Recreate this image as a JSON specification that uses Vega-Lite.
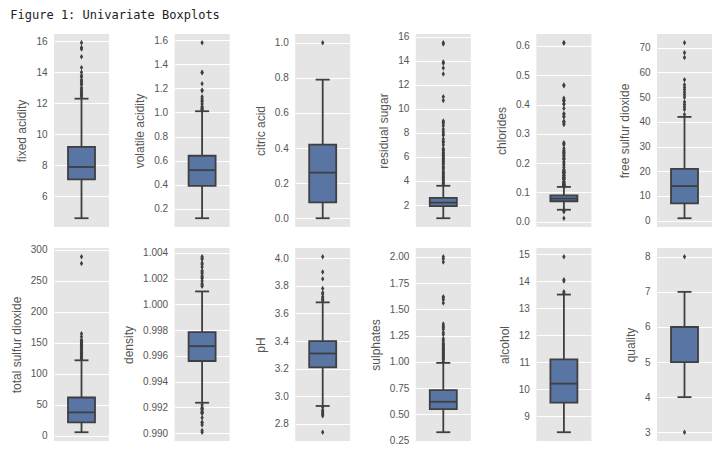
{
  "$schema": "https://vega.github.io/schema/vega-lite/v6.json",
  "background": "white",
  "padding": {"left": 10, "top": 8, "right": 5, "bottom": 5},
  "title": {"text": "Figure 1: Univariate Boxplots", "anchor": "start", "frame": "bounds", "font": "DejaVu Sans Mono", "fontSize": 12, "fontWeight": "normal", "color": "#222222", "offset": 10},
  "data": {"values": [
    {"n": "fixed acidity", "lo": 4.6, "q1": 7.1, "med": 7.9, "q3": 9.2, "hi": 12.3},
    {"n": "volatile acidity", "lo": 0.12, "q1": 0.39, "med": 0.52, "q3": 0.64, "hi": 1.01},
    {"n": "citric acid", "lo": 0, "q1": 0.09, "med": 0.26, "q3": 0.42, "hi": 0.79},
    {"n": "residual sugar", "lo": 0.9, "q1": 1.9, "med": 2.2, "q3": 2.6, "hi": 3.6},
    {"n": "chlorides", "lo": 0.041, "q1": 0.07, "med": 0.079, "q3": 0.09, "hi": 0.119},
    {"n": "free sulfur dioxide", "lo": 1, "q1": 7, "med": 14, "q3": 21, "hi": 42},
    {"n": "total sulfur dioxide", "lo": 6, "q1": 22, "med": 38, "q3": 62, "hi": 122},
    {"n": "density", "lo": 0.99236, "q1": 0.9956, "med": 0.99675, "q3": 0.99784, "hi": 1.001},
    {"n": "pH", "lo": 2.93, "q1": 3.21, "med": 3.31, "q3": 3.4, "hi": 3.68},
    {"n": "sulphates", "lo": 0.33, "q1": 0.55, "med": 0.62, "q3": 0.73, "hi": 0.99},
    {"n": "alcohol", "lo": 8.4, "q1": 9.5, "med": 10.2, "q3": 11.1, "hi": 13.5},
    {"n": "quality", "lo": 4, "q1": 5, "med": 6, "q3": 6, "hi": 7},
    {"n": "fixed acidity", "o": 12.4}, {"n": "fixed acidity", "o": 12.5}, {"n": "fixed acidity", "o": 12.6}, {"n": "fixed acidity", "o": 12.7}, {"n": "fixed acidity", "o": 12.8}, {"n": "fixed acidity", "o": 12.9}, {"n": "fixed acidity", "o": 13.0}, {"n": "fixed acidity", "o": 13.2}, {"n": "fixed acidity", "o": 13.3}, {"n": "fixed acidity", "o": 13.4}, {"n": "fixed acidity", "o": 13.5}, {"n": "fixed acidity", "o": 13.7}, {"n": "fixed acidity", "o": 13.8}, {"n": "fixed acidity", "o": 14.0}, {"n": "fixed acidity", "o": 14.3}, {"n": "fixed acidity", "o": 15.0}, {"n": "fixed acidity", "o": 15.5}, {"n": "fixed acidity", "o": 15.6}, {"n": "fixed acidity", "o": 15.9},
    {"n": "volatile acidity", "o": 1.02}, {"n": "volatile acidity", "o": 1.025}, {"n": "volatile acidity", "o": 1.035}, {"n": "volatile acidity", "o": 1.04}, {"n": "volatile acidity", "o": 1.05}, {"n": "volatile acidity", "o": 1.07}, {"n": "volatile acidity", "o": 1.09}, {"n": "volatile acidity", "o": 1.1}, {"n": "volatile acidity", "o": 1.115}, {"n": "volatile acidity", "o": 1.13}, {"n": "volatile acidity", "o": 1.18}, {"n": "volatile acidity", "o": 1.185}, {"n": "volatile acidity", "o": 1.24}, {"n": "volatile acidity", "o": 1.33}, {"n": "volatile acidity", "o": 1.335}, {"n": "volatile acidity", "o": 1.58},
    {"n": "citric acid", "o": 1.0},
    {"n": "residual sugar", "o": 3.7}, {"n": "residual sugar", "o": 3.8}, {"n": "residual sugar", "o": 3.9}, {"n": "residual sugar", "o": 4.0}, {"n": "residual sugar", "o": 4.1}, {"n": "residual sugar", "o": 4.2}, {"n": "residual sugar", "o": 4.3}, {"n": "residual sugar", "o": 4.4}, {"n": "residual sugar", "o": 4.5}, {"n": "residual sugar", "o": 4.6}, {"n": "residual sugar", "o": 4.7}, {"n": "residual sugar", "o": 4.8}, {"n": "residual sugar", "o": 5.0}, {"n": "residual sugar", "o": 5.1}, {"n": "residual sugar", "o": 5.2}, {"n": "residual sugar", "o": 5.4}, {"n": "residual sugar", "o": 5.5}, {"n": "residual sugar", "o": 5.6}, {"n": "residual sugar", "o": 5.7}, {"n": "residual sugar", "o": 5.8}, {"n": "residual sugar", "o": 5.9}, {"n": "residual sugar", "o": 6.0}, {"n": "residual sugar", "o": 6.1}, {"n": "residual sugar", "o": 6.2}, {"n": "residual sugar", "o": 6.3}, {"n": "residual sugar", "o": 6.4}, {"n": "residual sugar", "o": 6.55}, {"n": "residual sugar", "o": 6.6}, {"n": "residual sugar", "o": 6.7}, {"n": "residual sugar", "o": 7.0}, {"n": "residual sugar", "o": 7.2}, {"n": "residual sugar", "o": 7.3}, {"n": "residual sugar", "o": 7.5}, {"n": "residual sugar", "o": 7.8}, {"n": "residual sugar", "o": 7.9}, {"n": "residual sugar", "o": 8.1}, {"n": "residual sugar", "o": 8.3}, {"n": "residual sugar", "o": 8.6}, {"n": "residual sugar", "o": 8.8}, {"n": "residual sugar", "o": 8.9}, {"n": "residual sugar", "o": 9.0}, {"n": "residual sugar", "o": 10.7}, {"n": "residual sugar", "o": 11.0}, {"n": "residual sugar", "o": 12.9}, {"n": "residual sugar", "o": 13.4}, {"n": "residual sugar", "o": 13.8}, {"n": "residual sugar", "o": 13.9}, {"n": "residual sugar", "o": 15.4}, {"n": "residual sugar", "o": 15.5},
    {"n": "chlorides", "o": 0.012}, {"n": "chlorides", "o": 0.034}, {"n": "chlorides", "o": 0.038}, {"n": "chlorides", "o": 0.039},
    {"n": "chlorides", "o": 0.121}, {"n": "chlorides", "o": 0.122}, {"n": "chlorides", "o": 0.123}, {"n": "chlorides", "o": 0.124}, {"n": "chlorides", "o": 0.125}, {"n": "chlorides", "o": 0.126}, {"n": "chlorides", "o": 0.127}, {"n": "chlorides", "o": 0.128}, {"n": "chlorides", "o": 0.13}, {"n": "chlorides", "o": 0.132}, {"n": "chlorides", "o": 0.134}, {"n": "chlorides", "o": 0.136}, {"n": "chlorides", "o": 0.137}, {"n": "chlorides", "o": 0.143}, {"n": "chlorides", "o": 0.145}, {"n": "chlorides", "o": 0.146}, {"n": "chlorides", "o": 0.147}, {"n": "chlorides", "o": 0.15}, {"n": "chlorides", "o": 0.152}, {"n": "chlorides", "o": 0.153}, {"n": "chlorides", "o": 0.157}, {"n": "chlorides", "o": 0.159}, {"n": "chlorides", "o": 0.16}, {"n": "chlorides", "o": 0.165}, {"n": "chlorides", "o": 0.166}, {"n": "chlorides", "o": 0.168}, {"n": "chlorides", "o": 0.169}, {"n": "chlorides", "o": 0.17}, {"n": "chlorides", "o": 0.171}, {"n": "chlorides", "o": 0.172}, {"n": "chlorides", "o": 0.176}, {"n": "chlorides", "o": 0.178}, {"n": "chlorides", "o": 0.186}, {"n": "chlorides", "o": 0.194}, {"n": "chlorides", "o": 0.2}, {"n": "chlorides", "o": 0.205}, {"n": "chlorides", "o": 0.213}, {"n": "chlorides", "o": 0.214}, {"n": "chlorides", "o": 0.216}, {"n": "chlorides", "o": 0.222}, {"n": "chlorides", "o": 0.226}, {"n": "chlorides", "o": 0.23}, {"n": "chlorides", "o": 0.235}, {"n": "chlorides", "o": 0.236}, {"n": "chlorides", "o": 0.241}, {"n": "chlorides", "o": 0.243}, {"n": "chlorides", "o": 0.25}, {"n": "chlorides", "o": 0.263}, {"n": "chlorides", "o": 0.267}, {"n": "chlorides", "o": 0.27}, {"n": "chlorides", "o": 0.332}, {"n": "chlorides", "o": 0.337}, {"n": "chlorides", "o": 0.341}, {"n": "chlorides", "o": 0.343}, {"n": "chlorides", "o": 0.358}, {"n": "chlorides", "o": 0.36}, {"n": "chlorides", "o": 0.368}, {"n": "chlorides", "o": 0.369}, {"n": "chlorides", "o": 0.387}, {"n": "chlorides", "o": 0.401}, {"n": "chlorides", "o": 0.403}, {"n": "chlorides", "o": 0.413}, {"n": "chlorides", "o": 0.414}, {"n": "chlorides", "o": 0.415}, {"n": "chlorides", "o": 0.422}, {"n": "chlorides", "o": 0.464}, {"n": "chlorides", "o": 0.467}, {"n": "chlorides", "o": 0.61}, {"n": "chlorides", "o": 0.611},
    {"n": "free sulfur dioxide", "o": 43}, {"n": "free sulfur dioxide", "o": 45}, {"n": "free sulfur dioxide", "o": 46}, {"n": "free sulfur dioxide", "o": 47}, {"n": "free sulfur dioxide", "o": 48}, {"n": "free sulfur dioxide", "o": 50}, {"n": "free sulfur dioxide", "o": 51}, {"n": "free sulfur dioxide", "o": 52}, {"n": "free sulfur dioxide", "o": 53}, {"n": "free sulfur dioxide", "o": 54}, {"n": "free sulfur dioxide", "o": 55}, {"n": "free sulfur dioxide", "o": 57}, {"n": "free sulfur dioxide", "o": 66}, {"n": "free sulfur dioxide", "o": 68}, {"n": "free sulfur dioxide", "o": 72},
    {"n": "total sulfur dioxide", "o": 124}, {"n": "total sulfur dioxide", "o": 125}, {"n": "total sulfur dioxide", "o": 127}, {"n": "total sulfur dioxide", "o": 128}, {"n": "total sulfur dioxide", "o": 129}, {"n": "total sulfur dioxide", "o": 131}, {"n": "total sulfur dioxide", "o": 133}, {"n": "total sulfur dioxide", "o": 134}, {"n": "total sulfur dioxide", "o": 135}, {"n": "total sulfur dioxide", "o": 136}, {"n": "total sulfur dioxide", "o": 139}, {"n": "total sulfur dioxide", "o": 140}, {"n": "total sulfur dioxide", "o": 141}, {"n": "total sulfur dioxide", "o": 143}, {"n": "total sulfur dioxide", "o": 144}, {"n": "total sulfur dioxide", "o": 145}, {"n": "total sulfur dioxide", "o": 147}, {"n": "total sulfur dioxide", "o": 148}, {"n": "total sulfur dioxide", "o": 149}, {"n": "total sulfur dioxide", "o": 151}, {"n": "total sulfur dioxide", "o": 152}, {"n": "total sulfur dioxide", "o": 153}, {"n": "total sulfur dioxide", "o": 155}, {"n": "total sulfur dioxide", "o": 160}, {"n": "total sulfur dioxide", "o": 165}, {"n": "total sulfur dioxide", "o": 278}, {"n": "total sulfur dioxide", "o": 289},
    {"n": "density", "o": 0.99007}, {"n": "density", "o": 0.9902}, {"n": "density", "o": 0.99064}, {"n": "density", "o": 0.9908}, {"n": "density", "o": 0.99084}, {"n": "density", "o": 0.9912}, {"n": "density", "o": 0.99154}, {"n": "density", "o": 0.99157}, {"n": "density", "o": 0.9916}, {"n": "density", "o": 0.9917}, {"n": "density", "o": 0.99182}, {"n": "density", "o": 0.9919}, {"n": "density", "o": 0.99191}, {"n": "density", "o": 0.992}, {"n": "density", "o": 0.9922},
    {"n": "density", "o": 1.0014}, {"n": "density", "o": 1.0015}, {"n": "density", "o": 1.0016}, {"n": "density", "o": 1.0018}, {"n": "density", "o": 1.002}, {"n": "density", "o": 1.0021}, {"n": "density", "o": 1.0022}, {"n": "density", "o": 1.0024}, {"n": "density", "o": 1.0025}, {"n": "density", "o": 1.0026}, {"n": "density", "o": 1.0029}, {"n": "density", "o": 1.0031}, {"n": "density", "o": 1.0032}, {"n": "density", "o": 1.0035}, {"n": "density", "o": 1.0036}, {"n": "density", "o": 1.00369},
    {"n": "pH", "o": 2.74}, {"n": "pH", "o": 2.86}, {"n": "pH", "o": 2.87}, {"n": "pH", "o": 2.88}, {"n": "pH", "o": 2.89}, {"n": "pH", "o": 2.9}, {"n": "pH", "o": 2.92}, {"n": "pH", "o": 3.69}, {"n": "pH", "o": 3.7}, {"n": "pH", "o": 3.71}, {"n": "pH", "o": 3.72}, {"n": "pH", "o": 3.74}, {"n": "pH", "o": 3.75}, {"n": "pH", "o": 3.78}, {"n": "pH", "o": 3.85}, {"n": "pH", "o": 3.9}, {"n": "pH", "o": 4.01},
    {"n": "sulphates", "o": 1.0}, {"n": "sulphates", "o": 1.02}, {"n": "sulphates", "o": 1.03}, {"n": "sulphates", "o": 1.04}, {"n": "sulphates", "o": 1.05}, {"n": "sulphates", "o": 1.06}, {"n": "sulphates", "o": 1.07}, {"n": "sulphates", "o": 1.08}, {"n": "sulphates", "o": 1.09}, {"n": "sulphates", "o": 1.1}, {"n": "sulphates", "o": 1.11}, {"n": "sulphates", "o": 1.12}, {"n": "sulphates", "o": 1.13}, {"n": "sulphates", "o": 1.14}, {"n": "sulphates", "o": 1.15}, {"n": "sulphates", "o": 1.16}, {"n": "sulphates", "o": 1.17}, {"n": "sulphates", "o": 1.18}, {"n": "sulphates", "o": 1.2}, {"n": "sulphates", "o": 1.22}, {"n": "sulphates", "o": 1.26}, {"n": "sulphates", "o": 1.28}, {"n": "sulphates", "o": 1.31}, {"n": "sulphates", "o": 1.33}, {"n": "sulphates", "o": 1.34}, {"n": "sulphates", "o": 1.36}, {"n": "sulphates", "o": 1.56}, {"n": "sulphates", "o": 1.59}, {"n": "sulphates", "o": 1.61}, {"n": "sulphates", "o": 1.62}, {"n": "sulphates", "o": 1.95}, {"n": "sulphates", "o": 1.98}, {"n": "sulphates", "o": 2.0},
    {"n": "alcohol", "o": 13.55}, {"n": "alcohol", "o": 13.6}, {"n": "alcohol", "o": 14.0}, {"n": "alcohol", "o": 14.05}, {"n": "alcohol", "o": 14.9},
    {"n": "quality", "o": 3}, {"n": "quality", "o": 8}
  ]},
  "columns": 6,
  "bounds": "flush",
  "spacing": {"row": 21, "column": 65.6},
  "concat": [
    {"width": 55, "height": 193, "transform": [{"filter": "datum.n === 'fixed acidity'"}], "encoding": {"x": {"datum": "a", "type": "nominal", "axis": null}},
     "layer": [
      {"mark": {"type": "rule", "color": "#3f3f3f", "strokeWidth": 1.8}, "encoding": {"y": {"field": "lo", "type": "quantitative", "title": "fixed acidity", "scale": {"domain": [4.035, 16.465], "nice": false, "zero": false}, "axis": {"values": [6, 8, 10, 12, 14, 16], "format": "d", "tickCount": 30}}, "y2": {"field": "hi"}}},
      {"mark": {"type": "bar", "width": 27, "fill": "#5975a4", "stroke": "#3f3f3f", "strokeWidth": 1.8}, "encoding": {"y": {"field": "q1", "type": "quantitative", "title": "fixed acidity"}, "y2": {"field": "q3"}}},
      {"mark": {"type": "tick", "orient": "horizontal", "size": 27, "thickness": 1.8, "color": "#3f3f3f", "opacity": 1}, "encoding": {"y": {"field": "med", "type": "quantitative", "title": "fixed acidity"}}},
      {"mark": {"type": "tick", "orient": "horizontal", "size": 14, "thickness": 1.8, "color": "#3f3f3f", "opacity": 1}, "encoding": {"y": {"field": "lo", "type": "quantitative", "title": "fixed acidity"}}},
      {"mark": {"type": "tick", "orient": "horizontal", "size": 14, "thickness": 1.8, "color": "#3f3f3f", "opacity": 1}, "encoding": {"y": {"field": "hi", "type": "quantitative", "title": "fixed acidity"}}},
      {"mark": {"type": "point", "shape": "M0,-1L0.6,0L0,1L-0.6,0Z", "filled": true, "size": 30, "color": "#3f3f3f", "opacity": 1}, "encoding": {"y": {"field": "o", "type": "quantitative", "title": "fixed acidity"}}}
     ]},
    {"width": 55, "height": 193, "transform": [{"filter": "datum.n === 'volatile acidity'"}], "encoding": {"x": {"datum": "a", "type": "nominal", "axis": null}},
     "layer": [
      {"mark": {"type": "rule", "color": "#3f3f3f", "strokeWidth": 1.8}, "encoding": {"y": {"field": "lo", "type": "quantitative", "title": "volatile acidity", "scale": {"domain": [0.047, 1.653], "nice": false, "zero": false}, "axis": {"values": [0.2, 0.4, 0.6, 0.8, 1.0, 1.2, 1.4, 1.6], "format": ".1f", "tickCount": 30}}, "y2": {"field": "hi"}}},
      {"mark": {"type": "bar", "width": 27, "fill": "#5975a4", "stroke": "#3f3f3f", "strokeWidth": 1.8}, "encoding": {"y": {"field": "q1", "type": "quantitative", "title": "volatile acidity"}, "y2": {"field": "q3"}}},
      {"mark": {"type": "tick", "orient": "horizontal", "size": 27, "thickness": 1.8, "color": "#3f3f3f", "opacity": 1}, "encoding": {"y": {"field": "med", "type": "quantitative", "title": "volatile acidity"}}},
      {"mark": {"type": "tick", "orient": "horizontal", "size": 14, "thickness": 1.8, "color": "#3f3f3f", "opacity": 1}, "encoding": {"y": {"field": "lo", "type": "quantitative", "title": "volatile acidity"}}},
      {"mark": {"type": "tick", "orient": "horizontal", "size": 14, "thickness": 1.8, "color": "#3f3f3f", "opacity": 1}, "encoding": {"y": {"field": "hi", "type": "quantitative", "title": "volatile acidity"}}},
      {"mark": {"type": "point", "shape": "M0,-1L0.6,0L0,1L-0.6,0Z", "filled": true, "size": 30, "color": "#3f3f3f", "opacity": 1}, "encoding": {"y": {"field": "o", "type": "quantitative", "title": "volatile acidity"}}}
     ]},
    {"width": 55, "height": 193, "transform": [{"filter": "datum.n === 'citric acid'"}], "encoding": {"x": {"datum": "a", "type": "nominal", "axis": null}},
     "layer": [
      {"mark": {"type": "rule", "color": "#3f3f3f", "strokeWidth": 1.8}, "encoding": {"y": {"field": "lo", "type": "quantitative", "title": "citric acid", "scale": {"domain": [-0.05, 1.05], "nice": false, "zero": false}, "axis": {"values": [0, 0.2, 0.4, 0.6, 0.8, 1.0], "format": ".1f", "tickCount": 30}}, "y2": {"field": "hi"}}},
      {"mark": {"type": "bar", "width": 27, "fill": "#5975a4", "stroke": "#3f3f3f", "strokeWidth": 1.8}, "encoding": {"y": {"field": "q1", "type": "quantitative", "title": "citric acid"}, "y2": {"field": "q3"}}},
      {"mark": {"type": "tick", "orient": "horizontal", "size": 27, "thickness": 1.8, "color": "#3f3f3f", "opacity": 1}, "encoding": {"y": {"field": "med", "type": "quantitative", "title": "citric acid"}}},
      {"mark": {"type": "tick", "orient": "horizontal", "size": 14, "thickness": 1.8, "color": "#3f3f3f", "opacity": 1}, "encoding": {"y": {"field": "lo", "type": "quantitative", "title": "citric acid"}}},
      {"mark": {"type": "tick", "orient": "horizontal", "size": 14, "thickness": 1.8, "color": "#3f3f3f", "opacity": 1}, "encoding": {"y": {"field": "hi", "type": "quantitative", "title": "citric acid"}}},
      {"mark": {"type": "point", "shape": "M0,-1L0.6,0L0,1L-0.6,0Z", "filled": true, "size": 30, "color": "#3f3f3f", "opacity": 1}, "encoding": {"y": {"field": "o", "type": "quantitative", "title": "citric acid"}}}
     ]},
    {"width": 55, "height": 193, "transform": [{"filter": "datum.n === 'residual sugar'"}], "encoding": {"x": {"datum": "a", "type": "nominal", "axis": null}},
     "layer": [
      {"mark": {"type": "rule", "color": "#3f3f3f", "strokeWidth": 1.8}, "encoding": {"y": {"field": "lo", "type": "quantitative", "title": "residual sugar", "scale": {"domain": [0.17, 16.23], "nice": false, "zero": false}, "axis": {"values": [2, 4, 6, 8, 10, 12, 14, 16], "format": "d", "tickCount": 30}}, "y2": {"field": "hi"}}},
      {"mark": {"type": "bar", "width": 27, "fill": "#5975a4", "stroke": "#3f3f3f", "strokeWidth": 1.8}, "encoding": {"y": {"field": "q1", "type": "quantitative", "title": "residual sugar"}, "y2": {"field": "q3"}}},
      {"mark": {"type": "tick", "orient": "horizontal", "size": 27, "thickness": 1.8, "color": "#3f3f3f", "opacity": 1}, "encoding": {"y": {"field": "med", "type": "quantitative", "title": "residual sugar"}}},
      {"mark": {"type": "tick", "orient": "horizontal", "size": 14, "thickness": 1.8, "color": "#3f3f3f", "opacity": 1}, "encoding": {"y": {"field": "lo", "type": "quantitative", "title": "residual sugar"}}},
      {"mark": {"type": "tick", "orient": "horizontal", "size": 14, "thickness": 1.8, "color": "#3f3f3f", "opacity": 1}, "encoding": {"y": {"field": "hi", "type": "quantitative", "title": "residual sugar"}}},
      {"mark": {"type": "point", "shape": "M0,-1L0.6,0L0,1L-0.6,0Z", "filled": true, "size": 30, "color": "#3f3f3f", "opacity": 1}, "encoding": {"y": {"field": "o", "type": "quantitative", "title": "residual sugar"}}}
     ]},
    {"width": 55, "height": 193, "transform": [{"filter": "datum.n === 'chlorides'"}], "encoding": {"x": {"datum": "a", "type": "nominal", "axis": null}},
     "layer": [
      {"mark": {"type": "rule", "color": "#3f3f3f", "strokeWidth": 1.8}, "encoding": {"y": {"field": "lo", "type": "quantitative", "title": "chlorides", "scale": {"domain": [-0.01795, 0.64095], "nice": false, "zero": false}, "axis": {"values": [0, 0.1, 0.2, 0.3, 0.4, 0.5, 0.6], "format": ".1f", "tickCount": 30}}, "y2": {"field": "hi"}}},
      {"mark": {"type": "bar", "width": 27, "fill": "#5975a4", "stroke": "#3f3f3f", "strokeWidth": 1.8}, "encoding": {"y": {"field": "q1", "type": "quantitative", "title": "chlorides"}, "y2": {"field": "q3"}}},
      {"mark": {"type": "tick", "orient": "horizontal", "size": 27, "thickness": 1.8, "color": "#3f3f3f", "opacity": 1}, "encoding": {"y": {"field": "med", "type": "quantitative", "title": "chlorides"}}},
      {"mark": {"type": "tick", "orient": "horizontal", "size": 14, "thickness": 1.8, "color": "#3f3f3f", "opacity": 1}, "encoding": {"y": {"field": "lo", "type": "quantitative", "title": "chlorides"}}},
      {"mark": {"type": "tick", "orient": "horizontal", "size": 14, "thickness": 1.8, "color": "#3f3f3f", "opacity": 1}, "encoding": {"y": {"field": "hi", "type": "quantitative", "title": "chlorides"}}},
      {"mark": {"type": "point", "shape": "M0,-1L0.6,0L0,1L-0.6,0Z", "filled": true, "size": 30, "color": "#3f3f3f", "opacity": 1}, "encoding": {"y": {"field": "o", "type": "quantitative", "title": "chlorides"}}}
     ]},
    {"width": 55, "height": 193, "transform": [{"filter": "datum.n === 'free sulfur dioxide'"}], "encoding": {"x": {"datum": "a", "type": "nominal", "axis": null}},
     "layer": [
      {"mark": {"type": "rule", "color": "#3f3f3f", "strokeWidth": 1.8}, "encoding": {"y": {"field": "lo", "type": "quantitative", "title": "free sulfur dioxide", "scale": {"domain": [-2.55, 75.55], "nice": false, "zero": false}, "axis": {"values": [0, 10, 20, 30, 40, 50, 60, 70], "format": "d", "tickCount": 30}}, "y2": {"field": "hi"}}},
      {"mark": {"type": "bar", "width": 27, "fill": "#5975a4", "stroke": "#3f3f3f", "strokeWidth": 1.8}, "encoding": {"y": {"field": "q1", "type": "quantitative", "title": "free sulfur dioxide"}, "y2": {"field": "q3"}}},
      {"mark": {"type": "tick", "orient": "horizontal", "size": 27, "thickness": 1.8, "color": "#3f3f3f", "opacity": 1}, "encoding": {"y": {"field": "med", "type": "quantitative", "title": "free sulfur dioxide"}}},
      {"mark": {"type": "tick", "orient": "horizontal", "size": 14, "thickness": 1.8, "color": "#3f3f3f", "opacity": 1}, "encoding": {"y": {"field": "lo", "type": "quantitative", "title": "free sulfur dioxide"}}},
      {"mark": {"type": "tick", "orient": "horizontal", "size": 14, "thickness": 1.8, "color": "#3f3f3f", "opacity": 1}, "encoding": {"y": {"field": "hi", "type": "quantitative", "title": "free sulfur dioxide"}}},
      {"mark": {"type": "point", "shape": "M0,-1L0.6,0L0,1L-0.6,0Z", "filled": true, "size": 30, "color": "#3f3f3f", "opacity": 1}, "encoding": {"y": {"field": "o", "type": "quantitative", "title": "free sulfur dioxide"}}}
     ]},
    {"width": 55, "height": 193, "transform": [{"filter": "datum.n === 'total sulfur dioxide'"}], "encoding": {"x": {"datum": "a", "type": "nominal", "axis": null}},
     "layer": [
      {"mark": {"type": "rule", "color": "#3f3f3f", "strokeWidth": 1.8}, "encoding": {"y": {"field": "lo", "type": "quantitative", "title": "total sulfur dioxide", "scale": {"domain": [-8.15, 303.15], "nice": false, "zero": false}, "axis": {"values": [0, 50, 100, 150, 200, 250, 300], "format": "d", "tickCount": 30}}, "y2": {"field": "hi"}}},
      {"mark": {"type": "bar", "width": 27, "fill": "#5975a4", "stroke": "#3f3f3f", "strokeWidth": 1.8}, "encoding": {"y": {"field": "q1", "type": "quantitative", "title": "total sulfur dioxide"}, "y2": {"field": "q3"}}},
      {"mark": {"type": "tick", "orient": "horizontal", "size": 27, "thickness": 1.8, "color": "#3f3f3f", "opacity": 1}, "encoding": {"y": {"field": "med", "type": "quantitative", "title": "total sulfur dioxide"}}},
      {"mark": {"type": "tick", "orient": "horizontal", "size": 14, "thickness": 1.8, "color": "#3f3f3f", "opacity": 1}, "encoding": {"y": {"field": "lo", "type": "quantitative", "title": "total sulfur dioxide"}}},
      {"mark": {"type": "tick", "orient": "horizontal", "size": 14, "thickness": 1.8, "color": "#3f3f3f", "opacity": 1}, "encoding": {"y": {"field": "hi", "type": "quantitative", "title": "total sulfur dioxide"}}},
      {"mark": {"type": "point", "shape": "M0,-1L0.6,0L0,1L-0.6,0Z", "filled": true, "size": 30, "color": "#3f3f3f", "opacity": 1}, "encoding": {"y": {"field": "o", "type": "quantitative", "title": "total sulfur dioxide"}}}
     ]},
    {"width": 55, "height": 193, "transform": [{"filter": "datum.n === 'density'"}], "encoding": {"x": {"datum": "a", "type": "nominal", "axis": null}},
     "layer": [
      {"mark": {"type": "rule", "color": "#3f3f3f", "strokeWidth": 1.8}, "encoding": {"y": {"field": "lo", "type": "quantitative", "title": "density", "scale": {"domain": [0.989389, 1.004371], "nice": false, "zero": false}, "axis": {"values": [0.99, 0.992, 0.994, 0.996, 0.998, 1.0, 1.002, 1.004], "format": ".3f", "tickCount": 30}}, "y2": {"field": "hi"}}},
      {"mark": {"type": "bar", "width": 27, "fill": "#5975a4", "stroke": "#3f3f3f", "strokeWidth": 1.8}, "encoding": {"y": {"field": "q1", "type": "quantitative", "title": "density"}, "y2": {"field": "q3"}}},
      {"mark": {"type": "tick", "orient": "horizontal", "size": 27, "thickness": 1.8, "color": "#3f3f3f", "opacity": 1}, "encoding": {"y": {"field": "med", "type": "quantitative", "title": "density"}}},
      {"mark": {"type": "tick", "orient": "horizontal", "size": 14, "thickness": 1.8, "color": "#3f3f3f", "opacity": 1}, "encoding": {"y": {"field": "lo", "type": "quantitative", "title": "density"}}},
      {"mark": {"type": "tick", "orient": "horizontal", "size": 14, "thickness": 1.8, "color": "#3f3f3f", "opacity": 1}, "encoding": {"y": {"field": "hi", "type": "quantitative", "title": "density"}}},
      {"mark": {"type": "point", "shape": "M0,-1L0.6,0L0,1L-0.6,0Z", "filled": true, "size": 30, "color": "#3f3f3f", "opacity": 1}, "encoding": {"y": {"field": "o", "type": "quantitative", "title": "density"}}}
     ]},
    {"width": 55, "height": 193, "transform": [{"filter": "datum.n === 'pH'"}], "encoding": {"x": {"datum": "a", "type": "nominal", "axis": null}},
     "layer": [
      {"mark": {"type": "rule", "color": "#3f3f3f", "strokeWidth": 1.8}, "encoding": {"y": {"field": "lo", "type": "quantitative", "title": "pH", "scale": {"domain": [2.6765, 4.0735], "nice": false, "zero": false}, "axis": {"values": [2.8, 3.0, 3.2, 3.4, 3.6, 3.8, 4.0], "format": ".1f", "tickCount": 30}}, "y2": {"field": "hi"}}},
      {"mark": {"type": "bar", "width": 27, "fill": "#5975a4", "stroke": "#3f3f3f", "strokeWidth": 1.8}, "encoding": {"y": {"field": "q1", "type": "quantitative", "title": "pH"}, "y2": {"field": "q3"}}},
      {"mark": {"type": "tick", "orient": "horizontal", "size": 27, "thickness": 1.8, "color": "#3f3f3f", "opacity": 1}, "encoding": {"y": {"field": "med", "type": "quantitative", "title": "pH"}}},
      {"mark": {"type": "tick", "orient": "horizontal", "size": 14, "thickness": 1.8, "color": "#3f3f3f", "opacity": 1}, "encoding": {"y": {"field": "lo", "type": "quantitative", "title": "pH"}}},
      {"mark": {"type": "tick", "orient": "horizontal", "size": 14, "thickness": 1.8, "color": "#3f3f3f", "opacity": 1}, "encoding": {"y": {"field": "hi", "type": "quantitative", "title": "pH"}}},
      {"mark": {"type": "point", "shape": "M0,-1L0.6,0L0,1L-0.6,0Z", "filled": true, "size": 30, "color": "#3f3f3f", "opacity": 1}, "encoding": {"y": {"field": "o", "type": "quantitative", "title": "pH"}}}
     ]},
    {"width": 55, "height": 193, "transform": [{"filter": "datum.n === 'sulphates'"}], "encoding": {"x": {"datum": "a", "type": "nominal", "axis": null}},
     "layer": [
      {"mark": {"type": "rule", "color": "#3f3f3f", "strokeWidth": 1.8}, "encoding": {"y": {"field": "lo", "type": "quantitative", "title": "sulphates", "scale": {"domain": [0.2465, 2.0835], "nice": false, "zero": false}, "axis": {"values": [0.25, 0.5, 0.75, 1.0, 1.25, 1.5, 1.75, 2.0], "format": ".2f", "tickCount": 30}}, "y2": {"field": "hi"}}},
      {"mark": {"type": "bar", "width": 27, "fill": "#5975a4", "stroke": "#3f3f3f", "strokeWidth": 1.8}, "encoding": {"y": {"field": "q1", "type": "quantitative", "title": "sulphates"}, "y2": {"field": "q3"}}},
      {"mark": {"type": "tick", "orient": "horizontal", "size": 27, "thickness": 1.8, "color": "#3f3f3f", "opacity": 1}, "encoding": {"y": {"field": "med", "type": "quantitative", "title": "sulphates"}}},
      {"mark": {"type": "tick", "orient": "horizontal", "size": 14, "thickness": 1.8, "color": "#3f3f3f", "opacity": 1}, "encoding": {"y": {"field": "lo", "type": "quantitative", "title": "sulphates"}}},
      {"mark": {"type": "tick", "orient": "horizontal", "size": 14, "thickness": 1.8, "color": "#3f3f3f", "opacity": 1}, "encoding": {"y": {"field": "hi", "type": "quantitative", "title": "sulphates"}}},
      {"mark": {"type": "point", "shape": "M0,-1L0.6,0L0,1L-0.6,0Z", "filled": true, "size": 30, "color": "#3f3f3f", "opacity": 1}, "encoding": {"y": {"field": "o", "type": "quantitative", "title": "sulphates"}}}
     ]},
    {"width": 55, "height": 193, "transform": [{"filter": "datum.n === 'alcohol'"}], "encoding": {"x": {"datum": "a", "type": "nominal", "axis": null}},
     "layer": [
      {"mark": {"type": "rule", "color": "#3f3f3f", "strokeWidth": 1.8}, "encoding": {"y": {"field": "lo", "type": "quantitative", "title": "alcohol", "scale": {"domain": [8.075, 15.225], "nice": false, "zero": false}, "axis": {"values": [9, 10, 11, 12, 13, 14, 15], "format": "d", "tickCount": 30}}, "y2": {"field": "hi"}}},
      {"mark": {"type": "bar", "width": 27, "fill": "#5975a4", "stroke": "#3f3f3f", "strokeWidth": 1.8}, "encoding": {"y": {"field": "q1", "type": "quantitative", "title": "alcohol"}, "y2": {"field": "q3"}}},
      {"mark": {"type": "tick", "orient": "horizontal", "size": 27, "thickness": 1.8, "color": "#3f3f3f", "opacity": 1}, "encoding": {"y": {"field": "med", "type": "quantitative", "title": "alcohol"}}},
      {"mark": {"type": "tick", "orient": "horizontal", "size": 14, "thickness": 1.8, "color": "#3f3f3f", "opacity": 1}, "encoding": {"y": {"field": "lo", "type": "quantitative", "title": "alcohol"}}},
      {"mark": {"type": "tick", "orient": "horizontal", "size": 14, "thickness": 1.8, "color": "#3f3f3f", "opacity": 1}, "encoding": {"y": {"field": "hi", "type": "quantitative", "title": "alcohol"}}},
      {"mark": {"type": "point", "shape": "M0,-1L0.6,0L0,1L-0.6,0Z", "filled": true, "size": 30, "color": "#3f3f3f", "opacity": 1}, "encoding": {"y": {"field": "o", "type": "quantitative", "title": "alcohol"}}}
     ]},
    {"width": 55, "height": 193, "transform": [{"filter": "datum.n === 'quality'"}], "encoding": {"x": {"datum": "a", "type": "nominal", "axis": null}},
     "layer": [
      {"mark": {"type": "rule", "color": "#3f3f3f", "strokeWidth": 1.8}, "encoding": {"y": {"field": "lo", "type": "quantitative", "title": "quality", "scale": {"domain": [2.75, 8.25], "nice": false, "zero": false}, "axis": {"values": [3, 4, 5, 6, 7, 8], "format": "d", "tickCount": 30}}, "y2": {"field": "hi"}}},
      {"mark": {"type": "bar", "width": 27, "fill": "#5975a4", "stroke": "#3f3f3f", "strokeWidth": 1.8}, "encoding": {"y": {"field": "q1", "type": "quantitative", "title": "quality"}, "y2": {"field": "q3"}}},
      {"mark": {"type": "tick", "orient": "horizontal", "size": 27, "thickness": 1.8, "color": "#3f3f3f", "opacity": 1}, "encoding": {"y": {"field": "med", "type": "quantitative", "title": "quality"}}},
      {"mark": {"type": "tick", "orient": "horizontal", "size": 14, "thickness": 1.8, "color": "#3f3f3f", "opacity": 1}, "encoding": {"y": {"field": "lo", "type": "quantitative", "title": "quality"}}},
      {"mark": {"type": "tick", "orient": "horizontal", "size": 14, "thickness": 1.8, "color": "#3f3f3f", "opacity": 1}, "encoding": {"y": {"field": "hi", "type": "quantitative", "title": "quality"}}},
      {"mark": {"type": "point", "shape": "M0,-1L0.6,0L0,1L-0.6,0Z", "filled": true, "size": 30, "color": "#3f3f3f", "opacity": 1}, "encoding": {"y": {"field": "o", "type": "quantitative", "title": "quality"}}}
     ]}
  ],
  "config": {
    "view": {"fill": "#e5e5e5", "stroke": null},
    "axis": {"grid": true, "gridColor": "#ffffff", "gridWidth": 1, "gridOpacity": 1, "domain": false, "ticks": false, "tickSize": 0, "labelPadding": 7, "labelOverlap": false, "labelFlush": false, "labelColor": "#555555", "labelFont": "Liberation Sans", "labelFontSize": 10, "titleFont": "Liberation Sans", "titleFontSize": 12, "titleFontWeight": "normal", "titleColor": "#555555", "titlePadding": 7}
  }
}
